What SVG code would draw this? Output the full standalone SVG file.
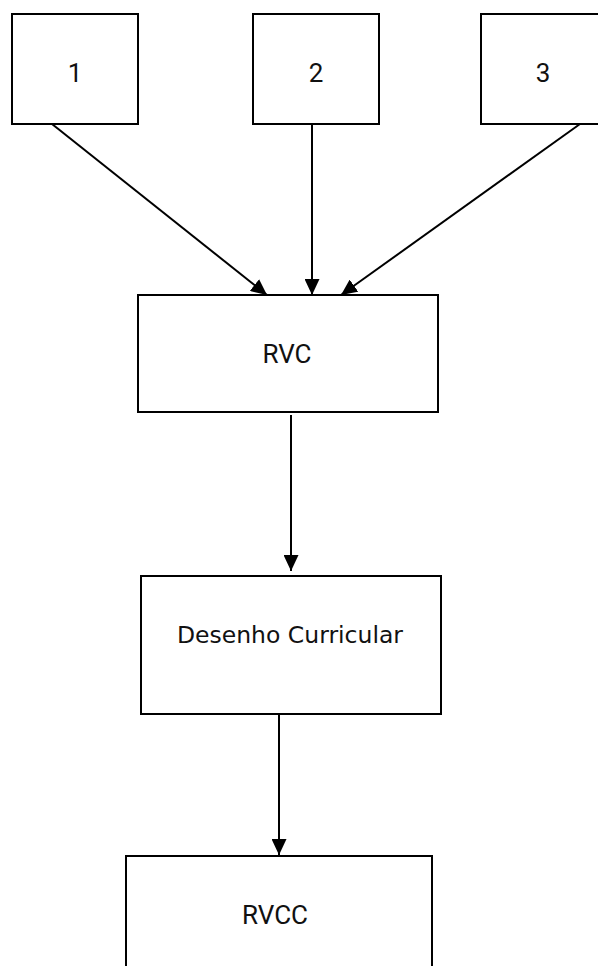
<svg xmlns="http://www.w3.org/2000/svg" width="598" height="966" viewBox="0 0 598 966">
  <style>
    .box { fill: #ffffff; stroke: #000000; stroke-width: 2; }
    .lbl { font-family: Roboto, "Liberation Sans", sans-serif; font-size: 26px; fill: #111111; text-anchor: middle; }
    .lbl2 { font-family: "DejaVu Sans", Verdana, sans-serif; font-size: 23.5px; fill: #111111; text-anchor: middle; }
    .edge { stroke: #000000; stroke-width: 2; fill: none; marker-end: url(#arrow); }
  </style>
  <defs>
    <marker id="arrow" markerUnits="userSpaceOnUse" markerWidth="16" markerHeight="15" refX="16" refY="7.5" orient="auto">
      <path d="M0,0 L16,7.5 L0,15 Z" fill="#000000"/>
    </marker>
  </defs>
  <rect width="598" height="966" fill="#ffffff"/>

  <g id="node-1">
    <rect class="box" x="12" y="14" width="126" height="110"/>
    <text class="lbl" x="75" y="82">1</text>
  </g>
  <g id="node-2">
    <rect class="box" x="253" y="14" width="126" height="110"/>
    <text class="lbl" x="316" y="82">2</text>
  </g>
  <g id="node-3">
    <rect class="box" x="481" y="14" width="126" height="110"/>
    <text class="lbl" x="543" y="82">3</text>
  </g>
  <g id="node-rvc">
    <rect class="box" x="138" y="295" width="300" height="117"/>
    <text class="lbl" x="287" y="363">RVC</text>
  </g>
  <g id="node-desenho">
    <rect class="box" x="141" y="576" width="300" height="138"/>
    <text class="lbl2" x="290" y="643">Desenho Curricular</text>
  </g>
  <g id="node-rvcc">
    <rect class="box" x="126" y="856" width="306" height="130"/>
    <text class="lbl" x="275" y="924">RVCC</text>
  </g>

  <g id="connectors">
    <line class="edge" x1="52" y1="124" x2="267" y2="295"/>
    <line class="edge" x1="312" y1="124" x2="312" y2="295"/>
    <line class="edge" x1="580" y1="124" x2="341" y2="295"/>
    <line class="edge" x1="291" y1="415" x2="291" y2="571"/>
    <line class="edge" x1="279" y1="714" x2="279" y2="855"/>
  </g>
</svg>
